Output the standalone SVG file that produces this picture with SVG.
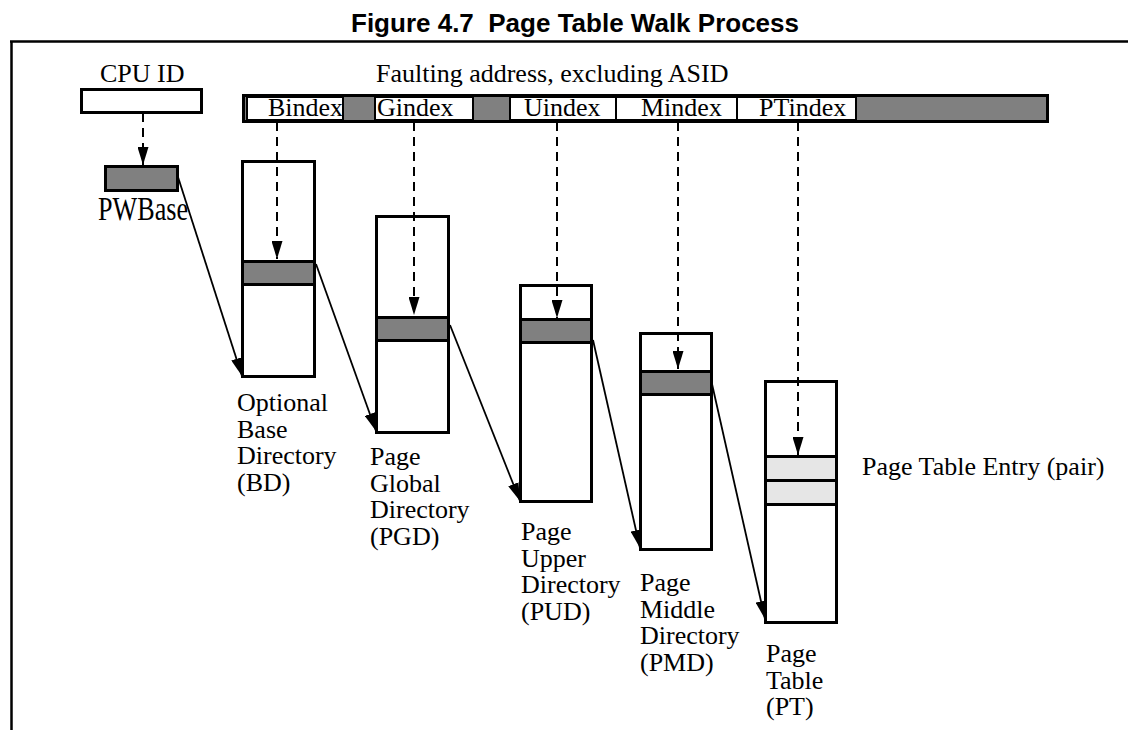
<svg xmlns="http://www.w3.org/2000/svg" width="1128" height="730" viewBox="0 0 1128 730">
<style>
.t{font-family:"Liberation Serif","Times New Roman",serif;font-size:26px;fill:#000}
.title{font-family:"Liberation Sans",Arial,sans-serif;font-size:26px;font-weight:bold;fill:#000;white-space:pre}
.box{fill:#fff;stroke:#000;stroke-width:3}
.seg{fill:#fff;stroke:#000;stroke-width:2}
.dk{fill:#808080;stroke:#000;stroke-width:3}
.lt{fill:#e6e6e6;stroke:#000;stroke-width:3}
.dash{stroke:#000;stroke-width:2;stroke-dasharray:9,6;fill:none}
.sol{stroke:#000;stroke-width:1.8;fill:none}
</style>
<defs>
<marker id="ah" markerUnits="userSpaceOnUse" markerWidth="18" markerHeight="11" refX="18" refY="5.5" orient="auto">
<path d="M0,0 L18,5.5 L0,11 z" fill="#000"/>
</marker>
</defs>
<text class="title" x="575" y="32" text-anchor="middle" xml:space="preserve">Figure 4.7  Page Table Walk Process</text>
<path d="M10,41.5 H1128 M11.5,41 V730" stroke="#000" stroke-width="2.5" fill="none"/>

<g id="cpuid">
<text class="t" x="100" y="82">CPU ID</text>
<rect class="box" x="81.5" y="89.5" width="120" height="23" stroke-width="2.5"/>
</g>
<g id="pwbase">
<rect class="dk" x="105.5" y="166.5" width="72" height="24"/>
<text class="t" x="98" y="220" style="font-size:33px" textLength="90" lengthAdjust="spacingAndGlyphs">PWBase</text>
</g>

<g id="address">
<text class="t" x="376" y="82">Faulting address, excluding ASID</text>
<rect x="243.5" y="95.5" width="804" height="26" fill="#808080" stroke="#000" stroke-width="3"/>
<rect class="seg" x="247" y="97" width="96" height="23"/>
<rect class="seg" x="375" y="97" width="98" height="23"/>
<rect class="seg" x="510" y="97" width="106" height="23"/>
<rect class="seg" x="616" y="97" width="121" height="23"/>
<rect class="seg" x="737" y="97" width="119" height="23"/>
<rect x="243.5" y="95.5" width="804" height="26" fill="none" stroke="#000" stroke-width="3"/>
<text class="t" x="268" y="116">Bindex</text>
<text class="t" x="377" y="116">Gindex</text>
<text class="t" x="524" y="116">Uindex</text>
<text class="t" x="641" y="116">Mindex</text>
<text class="t" x="759" y="116">PTindex</text>
</g>

<g id="bd">
<rect class="box" x="242.5" y="161.5" width="72" height="215"/>
<rect class="dk" x="242.5" y="261.5" width="72" height="23"/>
<text class="t" x="237" y="411"><tspan x="237">Optional</tspan><tspan x="237" dy="26.7">Base</tspan><tspan x="237" dy="26.7">Directory</tspan><tspan x="237" dy="26.7">(BD)</tspan></text>
</g>
<g id="pgd">
<rect class="box" x="376.5" y="216.5" width="72" height="216"/>
<rect class="dk" x="376.5" y="317.5" width="72" height="23"/>
<text class="t" x="370" y="465"><tspan x="370">Page</tspan><tspan x="370" dy="26.7">Global</tspan><tspan x="370" dy="26.7">Directory</tspan><tspan x="370" dy="26.7">(PGD)</tspan></text>
</g>
<g id="pud">
<rect class="box" x="520.5" y="285.5" width="71" height="216"/>
<rect class="dk" x="520.5" y="319.5" width="71" height="23"/>
<text class="t" x="521" y="540"><tspan x="521">Page</tspan><tspan x="521" dy="26.7">Upper</tspan><tspan x="521" dy="26.7">Directory</tspan><tspan x="521" dy="26.7">(PUD)</tspan></text>
</g>
<g id="pmd">
<rect class="box" x="640.5" y="333.5" width="71" height="216"/>
<rect class="dk" x="640.5" y="371.5" width="71" height="23"/>
<text class="t" x="640" y="591"><tspan x="640">Page</tspan><tspan x="640" dy="26.7">Middle</tspan><tspan x="640" dy="26.7">Directory</tspan><tspan x="640" dy="26.7">(PMD)</tspan></text>
</g>
<g id="pt">
<rect class="box" x="765.5" y="381.5" width="71" height="241"/>
<rect class="lt" x="765.5" y="456.5" width="71" height="24"/>
<rect class="lt" x="765.5" y="480.5" width="71" height="24"/>
<text class="t" x="766" y="662"><tspan x="766">Page</tspan><tspan x="766" dy="26.7">Table</tspan><tspan x="766" dy="26.7">(PT)</tspan></text>
<text class="t" x="862" y="475">Page Table Entry (pair)</text>
</g>

<g id="connectors">
<line class="dash" x1="143" y1="113" x2="143" y2="165" marker-end="url(#ah)"/>
<line class="dash" x1="277" y1="122" x2="277" y2="259" marker-end="url(#ah)"/>
<line class="dash" x1="414" y1="122" x2="414" y2="315" marker-end="url(#ah)"/>
<line class="dash" x1="557" y1="122" x2="557" y2="318" marker-end="url(#ah)"/>
<line class="dash" x1="678" y1="122" x2="678" y2="369" marker-end="url(#ah)"/>
<line class="dash" x1="798" y1="122" x2="798" y2="455" marker-end="url(#ah)"/>
<line class="sol" x1="178" y1="177" x2="242" y2="376" marker-end="url(#ah)"/>
<line class="sol" x1="316" y1="264" x2="376" y2="431" marker-end="url(#ah)"/>
<line class="sol" x1="450" y1="325" x2="520" y2="501" marker-end="url(#ah)"/>
<line class="sol" x1="593" y1="340" x2="640" y2="548" marker-end="url(#ah)"/>
<line class="sol" x1="712" y1="384" x2="765" y2="619" marker-end="url(#ah)"/>
</g>
</svg>
